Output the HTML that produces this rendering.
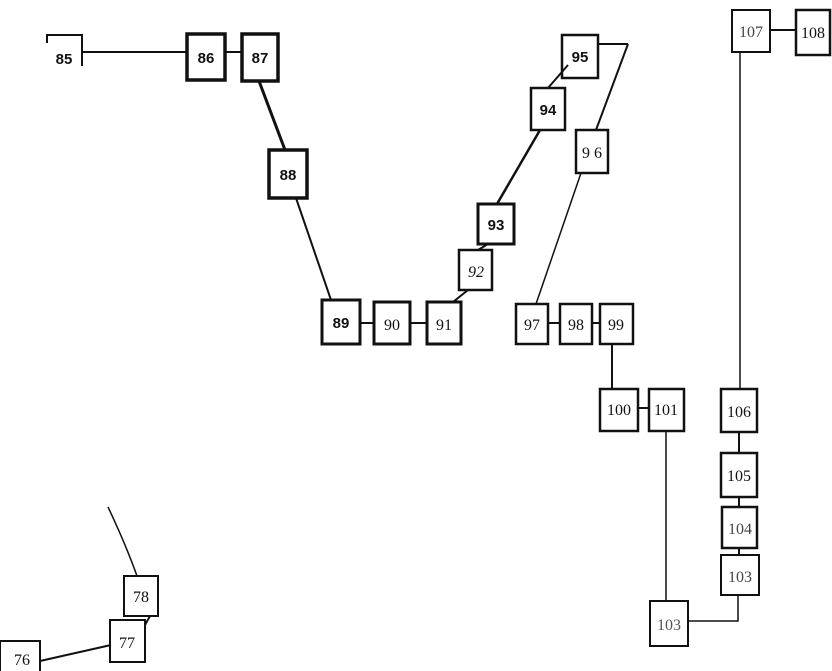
<!DOCTYPE html>
<html><head><style>
html,body{margin:0;padding:0;background:#fff;}
svg{display:block;}
text{font-family:"Liberation Serif",serif;font-size:16px;fill:#111;text-anchor:middle;}
.b{font-family:"Liberation Sans",sans-serif;font-weight:bold;font-size:15px;}
</style></head><body>
<svg width="832" height="671" viewBox="0 0 832 671" xmlns="http://www.w3.org/2000/svg">
<g stroke="#111" fill="none" stroke-width="2">
<!-- connectors -->
<line x1="82" y1="52" x2="187" y2="52"/>
<line x1="225" y1="52" x2="242" y2="52"/>
<line x1="259" y1="81" x2="285" y2="150" stroke-width="3"/>
<line x1="296" y1="198" x2="331" y2="300"/>
<line x1="360" y1="323" x2="374" y2="323"/>
<line x1="410" y1="323" x2="427" y2="323"/>
<line x1="453" y1="302" x2="468" y2="290"/>
<line x1="478" y1="250" x2="488" y2="244"/>
<line x1="497" y1="204" x2="540" y2="130" stroke-width="2.5"/>
<line x1="548" y1="88" x2="568" y2="65"/>
<line x1="598" y1="44" x2="628" y2="44"/>
<line x1="628" y1="44" x2="596" y2="130"/>
<line x1="581" y1="173" x2="536" y2="304" stroke-width="1.5"/>
<line x1="548" y1="323" x2="560" y2="323"/>
<line x1="592" y1="323" x2="600" y2="323"/>
<line x1="612" y1="344" x2="612" y2="389"/>
<line x1="638" y1="408" x2="649" y2="408"/>
<line x1="666" y1="431" x2="666" y2="601" stroke-width="1.5"/>
<polyline points="688,621 738,621 738,595" stroke-width="1.5"/>
<line x1="739" y1="548" x2="739" y2="555"/>
<line x1="739" y1="497" x2="739" y2="507"/>
<line x1="739" y1="432" x2="739" y2="453"/>
<line x1="740" y1="389" x2="740" y2="52" stroke-width="1.5"/>
<line x1="770" y1="30" x2="796" y2="30"/>
<path d="M108 507 Q126 545 137 576" stroke-width="1.5"/>
<line x1="145" y1="625" x2="150" y2="616"/>
<line x1="40" y1="661" x2="111" y2="645"/>
<!-- 85 bracket -->
<polyline points="47,43 47,35 82,35 82,66"/>
<!-- boxes -->
<rect x="187" y="34" width="38" height="46" stroke-width="3.5"/>
<rect x="242" y="34" width="36" height="47" stroke-width="3.5"/>
<rect x="269" y="150" width="38" height="48" stroke-width="3.5"/>
<rect x="322" y="300" width="38" height="44" stroke-width="3"/>
<rect x="374" y="302" width="36" height="42" stroke-width="3"/>
<rect x="427" y="302" width="34" height="42" stroke-width="3"/>
<rect x="459" y="250" width="33" height="40" stroke-width="2.5"/>
<rect x="478" y="204" width="36" height="40" stroke-width="3"/>
<rect x="531" y="88" width="34" height="42" stroke-width="2.5"/>
<rect x="562" y="35" width="36" height="43" stroke-width="2.5"/>
<rect x="576" y="130" width="32" height="43" stroke-width="2.5"/>
<rect x="516" y="304" width="32" height="40" stroke-width="2.5"/>
<rect x="560" y="304" width="32" height="40" stroke-width="2.5"/>
<rect x="600" y="304" width="33" height="40" stroke-width="2.5"/>
<rect x="600" y="389" width="38" height="42" stroke-width="2.5"/>
<rect x="649" y="389" width="35" height="42" stroke-width="2.5"/>
<rect x="650" y="601" width="38" height="45" stroke-width="2"/>
<rect x="721" y="555" width="38" height="40" stroke-width="2"/>
<rect x="722" y="507" width="35" height="41" stroke-width="2.5"/>
<rect x="721" y="453" width="36" height="44" stroke-width="2.5"/>
<rect x="721" y="389" width="36" height="43" stroke-width="2.5"/>
<rect x="732" y="10" width="38" height="42" stroke-width="2"/>
<rect x="796" y="10" width="34" height="45" stroke-width="2.5"/>
<rect x="124" y="576" width="34" height="40" stroke-width="2"/>
<rect x="110" y="620" width="35" height="42" stroke-width="2"/>
<rect x="0" y="641" width="40" height="32" stroke-width="2"/>
</g>
<text class="b" x="64" y="64">85</text>
<text class="b" x="206" y="63">86</text>
<text class="b" x="260" y="63">87</text>
<text class="b" x="288" y="180">88</text>
<text class="b" x="341" y="328">89</text>
<text x="392" y="330">90</text>
<text x="444" y="330">91</text>
<text x="476" y="277" style="font-style:italic">92</text>
<text class="b" x="496" y="230">93</text>
<text class="b" x="548" y="115">94</text>
<text class="b" x="580" y="62">95</text>
<text x="592" y="158">9 6</text>
<text x="532" y="330">97</text>
<text x="576" y="330">98</text>
<text x="616" y="330">99</text>
<text x="619" y="415">100</text>
<text x="666" y="415">101</text>
<text x="669" y="630" style="fill:#555">103</text>
<text x="740" y="582" style="fill:#444">103</text>
<text x="740" y="534" style="fill:#444">104</text>
<text x="739" y="481">105</text>
<text x="739" y="417">106</text>
<text x="751" y="37" style="fill:#444">107</text>
<text x="813" y="38">108</text>
<text x="141" y="602">78</text>
<text x="127" y="648">77</text>
<text x="22" y="665">76</text>
</svg>
</body></html>
